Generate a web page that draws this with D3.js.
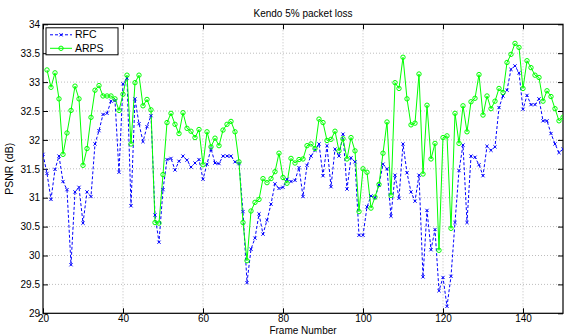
<!DOCTYPE html>
<html>
<head>
<meta charset="utf-8">
<script src="https://cdn.jsdelivr.net/npm/d3@7"></script>
<style>
  body { margin: 0; background: #fff; }
  text { font-family: "Liberation Sans", Arial, sans-serif; fill: #000; }
</style>
</head>
<body>
<svg id="chart"></svg>
<script>
// frame numbers where each series begins
const rfcStart = 20
const arpsStart = 21

// PSNR (dB) per frame
const rfc = [
  31.75, 31.42, 30.97, 31.49, 31.72, 31.28, 31.14, 29.84, 31.10, 31.18,
  30.56, 31.10, 31.02, 31.93, 32.16, 32.44, 32.46, 32.67, 32.68, 31.44,
  32.97, 33.07, 30.86, 32.71, 32.28, 31.97, 32.23, 32.42, 30.70, 30.23,
  31.14, 31.66, 31.68, 31.48, 31.63, 31.72, 31.65, 31.53, 31.60, 31.66,
  31.32, 31.58, 31.85, 31.60, 31.59, 31.72, 31.72, 31.72, 31.62, 31.59,
  30.76, 29.53, 30.11, 30.30, 30.72, 30.37, 30.61, 30.89, 31.24, 31.16,
  31.18, 31.32, 31.28, 31.30, 31.52, 31.02, 31.56, 31.72, 31.82, 31.93,
  31.38, 31.90, 31.19, 31.84, 31.72, 32.10, 31.15, 31.69, 31.62, 30.35,
  30.35, 30.84, 31.03, 31.00, 31.22, 31.58, 31.50, 30.68, 31.39, 30.99,
  31.93, 31.43, 31.10, 30.94, 31.39, 29.63, 30.78, 30.10, 30.45, 29.39,
  29.62, 29.12, 29.64, 30.57, 31.47, 31.91, 30.57, 31.72, 31.70, 31.57,
  31.38, 31.89, 31.82, 31.88, 32.56, 32.76, 32.86, 33.22, 33.28, 33.16,
  32.53, 32.77, 32.61, 32.61, 32.71, 32.33, 32.33, 32.11, 31.93, 31.78,
  31.84
]

const arps = [
  33.21, 32.91, 33.16, 32.71, 31.75, 32.12, 32.51, 32.93, 32.71,
  31.56, 31.85, 32.39, 32.86, 32.94, 32.76, 32.76, 32.76, 32.71, 32.51,
  32.79, 33.12, 31.93, 32.99, 33.12, 32.59, 32.70, 32.52, 30.57, 30.56,
  31.40, 32.30, 32.46, 32.27, 32.11, 32.47, 32.20, 32.15, 32.04, 32.18,
  31.57, 32.14, 31.88, 32.03, 31.90, 32.17, 32.27, 32.32, 32.14, 31.62,
  30.57, 29.91, 30.77, 30.92, 30.97, 31.33, 31.26, 31.33, 31.45, 31.77,
  31.35, 31.25, 31.68, 31.60, 31.66, 31.67, 31.90, 31.93, 31.85, 32.36,
  32.30, 31.99, 32.01, 32.15, 31.81, 32.02, 31.67, 32.04, 31.81, 30.76,
  31.50, 31.44, 30.82, 31.01, 31.23, 31.77, 32.31, 31.04, 32.99, 32.89,
  33.43, 32.71, 32.26, 32.29, 33.14, 31.41, 32.60, 31.67, 31.94, 30.09,
  32.04, 32.07, 30.47, 32.46, 31.94, 32.59, 32.14, 32.66, 32.72, 33.13,
  32.43, 32.76, 32.54, 32.67, 32.89, 32.82, 33.34, 33.48, 33.67, 33.60,
  32.89, 33.37, 33.25, 33.12, 33.08, 32.67, 32.85, 32.75, 32.54, 32.33,
  32.39
]

const xTicks = [20, 40, 60, 80, 100, 120, 140]
const yTicks = [29, 29.5, 30, 30.5, 31, 31.5, 32, 32.5, 33, 33.5, 34]
const seriesNames = ["RFC", "ARPS"]

var W = 566, H = 334
var margin = {top: 24.3, left: 43, right: 3, bottom: 20.7},
    width = W - margin.left - margin.right,
    height = H - margin.top - margin.bottom

var svg = d3.select("#chart").attr("width", W).attr("height", H)

var x = d3.scaleLinear().domain([20, 150]).range([0, width])
var y = d3.scaleLinear().domain([29, 34]).range([height, 0])

var g = svg.append("g").attr("transform", "translate(" + margin.left + "," + margin.top + ")")

g.append("clipPath").attr("id", "plotclip")
  .append("rect").attr("width", width).attr("height", height)

// dotted grid
g.append("g").selectAll("line").data(xTicks.slice(1)).enter().append("line")
  .attr("x1", d => x(d)).attr("x2", d => x(d)).attr("y1", 0).attr("y2", height)
  .attr("stroke", "#bdbdbd").attr("stroke-dasharray", "1,2")
g.append("g").selectAll("line").data(yTicks.slice(1, -1)).enter().append("line")
  .attr("y1", d => y(d)).attr("y2", d => y(d)).attr("x1", 0).attr("x2", width)
  .attr("stroke", "#bdbdbd").attr("stroke-dasharray", "1,2")

// axes, matlab style: inward ticks on all sides
var fmt = d => d3.format("")(d)
g.append("g").attr("transform", "translate(0," + height + ")")
  .call(d3.axisBottom(x).tickValues(xTicks).tickSizeInner(-5).tickSizeOuter(0).tickPadding(2).tickFormat(fmt))
g.append("g")
  .call(d3.axisTop(x).tickValues(xTicks).tickSizeInner(-5).tickSizeOuter(0).tickFormat(""))
g.append("g")
  .call(d3.axisLeft(y).tickValues(yTicks).tickSizeInner(-5).tickSizeOuter(0).tickPadding(3).tickFormat(fmt))
g.append("g").attr("transform", "translate(" + width + ",0)")
  .call(d3.axisRight(y).tickValues(yTicks).tickSizeInner(-5).tickSizeOuter(0).tickFormat(""))

g.selectAll(".domain").remove()
g.selectAll(".tick line").attr("stroke", "#000")
g.selectAll(".tick text").attr("font-size", 10).style("font-family", '"Liberation Sans", Arial, sans-serif')

g.append("rect").attr("width", width).attr("height", height)
  .attr("fill", "none").attr("stroke", "#000").attr("stroke-width", 1.2)

// series
var rfcPts = rfc.map((v, i) => [rfcStart + i, v])
var arpsPts = arps.map((v, i) => [arpsStart + i, v])
var line = d3.line().x(d => x(d[0])).y(d => y(d[1]))

var plot = g.append("g").attr("clip-path", "url(#plotclip)")

plot.append("path").datum(rfcPts).attr("d", line)
  .attr("fill", "none").attr("stroke", "#0000ff").attr("stroke-width", 1).attr("stroke-dasharray", "3,2")
plot.append("path").datum(arpsPts).attr("d", line)
  .attr("fill", "none").attr("stroke", "#00ff00").attr("stroke-width", 1)

var xMark = (cx, cy, s) => "M" + (cx - s) + "," + (cy - s) + "L" + (cx + s) + "," + (cy + s) +
  "M" + (cx - s) + "," + (cy + s) + "L" + (cx + s) + "," + (cy - s)

plot.append("g").selectAll("path").data(rfcPts).enter().append("path")
  .attr("d", d => xMark(x(d[0]), y(d[1]), 1.6))
  .attr("stroke", "#0000ff").attr("stroke-width", 1)
plot.append("g").selectAll("circle").data(arpsPts).enter().append("circle")
  .attr("cx", d => x(d[0])).attr("cy", d => y(d[1])).attr("r", 2.2)
  .attr("fill", "none").attr("stroke", "#00ff00").attr("stroke-width", 1)

// legend
var leg = g.append("g").attr("transform", "translate(3,3.5)")
leg.append("rect").attr("width", 72).attr("height", 27)
  .attr("fill", "#fff").attr("stroke", "#000").attr("stroke-width", 1)
seriesNames.forEach(function(name, i) {
  var ly = 7 + i * 13.5
  var row = leg.append("g")
  row.append("line").attr("x1", 4).attr("x2", 26).attr("y1", ly).attr("y2", ly)
    .attr("stroke", i == 0 ? "#0000ff" : "#00ff00")
    .attr("stroke-dasharray", i == 0 ? "3,2" : null)
  if (i == 0) {
    row.append("path").attr("d", xMark(15, ly, 1.6)).attr("stroke", "#0000ff")
  } else {
    row.append("circle").attr("cx", 15).attr("cy", ly).attr("r", 2.2)
      .attr("fill", "none").attr("stroke", "#00ff00")
  }
  row.append("text").attr("x", 29).attr("y", ly + 3.6).attr("font-size", 10.5).text(name)
})

// titles
svg.append("text").attr("x", margin.left + width / 2).attr("y", 17)
  .attr("text-anchor", "middle").attr("font-size", 10).text("Kendo 5% packet loss")
svg.append("text").attr("x", margin.left + width / 2).attr("y", 333.5)
  .attr("text-anchor", "middle").attr("font-size", 10).text("Frame Number")
svg.append("text").attr("transform", "translate(13," + (margin.top + height / 2) + ") rotate(-90)")
  .attr("text-anchor", "middle").attr("font-size", 10.5).text("PSNR (dB)")
</script>
</body>
</html>
